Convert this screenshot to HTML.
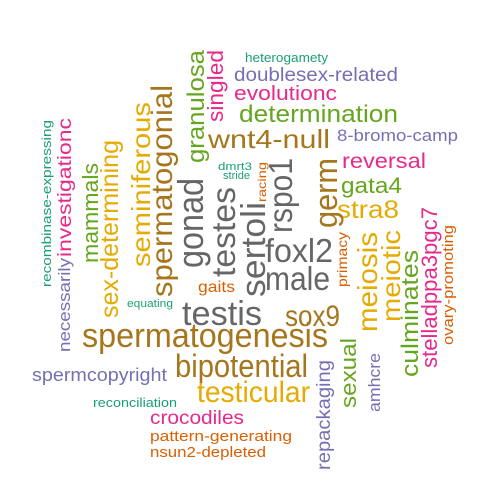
<!DOCTYPE html>
<html><head><meta charset="utf-8"><style>
html,body{margin:0;padding:0;background:#fff;}
svg{display:block;}
text{font-family:"Liberation Sans",Arial,sans-serif;}
</style></head><body>
<svg id="cloud" width="500" height="500" viewBox="0 0 500 500" xmlns="http://www.w3.org/2000/svg"></svg>
<script>
// word, color, font size, orientation (h/v), x, y (h: left x, baseline y; v: baseline x, bottom y), rendered length
const words = ["heterogamety","doublesex-related","evolutionc","determination","wnt4-null","8-bromo-camp","reversal","gata4","stra8","foxl2","male","testis","sox9","spermatogenesis","bipotential","testicular","spermcopyright","reconciliation","crocodiles","pattern-generating","nsun2-depleted","gaits","equating","dmrt3","stride","recombinase-expressing","investigationc","necessarily","mammals","sex-determining","seminiferous","spermatogonial","granulosa","singled","gonad","testes","sertoli","rspo1","racing","germ","primacy","meiosis","meiotic","culminates","stelladppa3pgc7","ovary-promoting","repackaging","sexual","amhcre"];
const colors = ["#1B9E77","#7570B3","#E7298A","#66A61E","#A6761D","#7570B3","#E7298A","#66A61E","#E6AB02","#666666","#666666","#666666","#A6761D","#A6761D","#A6761D","#E6AB02","#7570B3","#1B9E77","#E7298A","#D95F02","#D95F02","#D95F02","#1B9E77","#1B9E77","#1B9E77","#1B9E77","#E7298A","#7570B3","#66A61E","#E6AB02","#E6AB02","#A6761D","#66A61E","#E7298A","#666666","#666666","#666666","#666666","#D95F02","#A6761D","#D95F02","#E6AB02","#E6AB02","#66A61E","#E7298A","#D95F02","#7570B3","#66A61E","#7570B3"];
const sizes = [13,19,20,24,26,17,21,22,25,33,33,34,30,34,32,30,18,13,19,15,15,16,11,11,11,13,19,17,22,25,26,30,24,22,36,33,34,33,12,32,14,28,26,24,22,15,19,22,17];
const orient = ["h","h","h","h","h","h","h","h","h","h","h","h","h","h","h","h","h","h","h","h","h","h","h","h","h","v","v","v","v","v","v","v","v","v","v","v","v","v","v","v","v","v","v","v","v","v","v","v","v"];
const posX = [245,234,234,239,208,337,342,341,337,265,265,182,285,82,175,197,32,93,150,150,150,198,127,218,223,51,71,70,98,118,150,172,204,223,203,235,265,292,266,337,347,377,400,418,437,453,330,356,380];
const posY = [62,81,100,122,148,141,168,193,218,262,290,325,326,347,377,402,381,407,424,441,457,292,307,170,179,287,257,352,263,318,267,297,163,122,268,277,297,233,202,228,287,332,322,377,368,345,470,408,412];
const lens = [83,164,103,159,122,121,84,61,62,68,65,80,55,246,133,113,135,84,94,142,116,37,46,34,27,167,139,94,100,178,165,212,113,72,90,90,95,75,40,70,55,100,92,127,161,120,110,70,59];

const svg = document.getElementById('cloud');
const NS = 'http://www.w3.org/2000/svg';
for (let i = 0; i < words.length; i++) {
  const t = document.createElementNS(NS, 'text');
  
  
  t.setAttribute('fill', colors[i]);
  t.setAttribute('font-size', sizes[i]);
  t.setAttribute('textLength', lens[i]);
  t.setAttribute('lengthAdjust', 'spacingAndGlyphs');
  if (orient[i] === 'h') {
    t.setAttribute('x', posX[i]);
    t.setAttribute('y', posY[i]);
  } else {
    t.setAttribute('x', 0);
    t.setAttribute('y', 0);
    t.setAttribute('transform', 'translate(' + posX[i] + ',' + posY[i] + ') rotate(-90)');
  }
  t.textContent = words[i];
  svg.appendChild(t);
}
</script>
</body></html>
